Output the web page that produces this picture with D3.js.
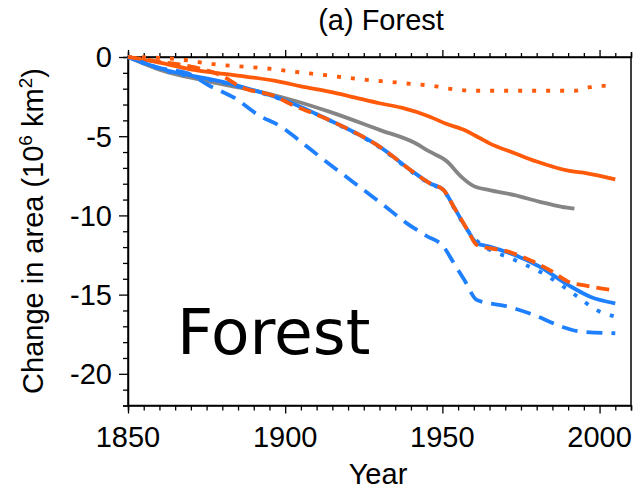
<!DOCTYPE html>
<html><head><meta charset="utf-8">
<script src="https://cdn.jsdelivr.net/npm/d3@7"></script>
<style>body{margin:0;background:#fff}svg{display:block}</style>
</head><body><svg id="c" width="633" height="489"></svg>
<script>
const years_orangeDotted = [1850,1860,1868,1877,1887,1896,1900,1913,1926,1935,1940,1948,1952,1961,1970,1978,1987,1992,1996,2000,2005];
const orangeDotted =       [0,-0.05,-0.19,-0.45,-0.61,-0.76,-0.86,-1.15,-1.45,-1.6,-1.7,-1.85,-2.0,-2.13,-2.13,-2.13,-2.13,-2.13,-1.95,-1.82,-1.82];
const years_orangeSolid = [1850,1860,1871,1882,1890,1898,1905,1914,1922,1930,1937,1946,1951,1957,1962,1965,1973,1980,1990,1996,2005];
const orangeSolid =       [0,-0.35,-0.82,-1.1,-1.3,-1.55,-1.85,-2.19,-2.55,-2.92,-3.2,-3.77,-4.2,-4.61,-5.13,-5.45,-6.07,-6.6,-7.18,-7.34,-7.73];
const years_gray = [1850,1860,1876,1892,1901,1914,1930,1941,1946,1951.5,1955.7,1960,1965,1973,1981,1988,1992];
const gray =       [0,-0.8,-1.56,-2.2,-2.65,-3.45,-4.6,-5.4,-5.98,-6.6,-7.5,-8.15,-8.4,-8.72,-9.14,-9.46,-9.57];
const years_orangeDashed = [1850,1860,1870,1880,1886,1897,1901,1914,1930,1941,1946,1950.4,1953.6,1958,1961,1971,1979,1985,1990,1996,2005];
const orangeDashed =       [0,-0.3,-0.6,-1.2,-1.9,-2.5,-2.9,-3.98,-5.66,-7.3,-7.97,-8.4,-9.45,-10.92,-11.87,-12.29,-12.93,-13.55,-14.18,-14.45,-14.75];
const years_blueSolid = [1850,1860,1882,1901,1914,1930,1941,1946,1950.4,1953.6,1958,1961,1965,1973,1981,1990,1997,2005];
const blueSolid =       [0,-0.71,-1.66,-2.82,-3.98,-5.66,-7.3,-7.97,-8.4,-9.45,-10.92,-11.76,-11.97,-12.5,-13.24,-14.39,-15.13,-15.55];
const years_blueDotted = [1850,1860,1882,1901,1914,1930,1941,1946,1950.4,1953.6,1958,1961,1973,1982,1993,1999,2005];
const blueDotted =       [0,-0.75,-1.7,-2.85,-4.0,-5.7,-7.35,-8.0,-8.45,-9.5,-10.95,-11.6,-12.81,-13.66,-15.13,-15.97,-16.39];
const years_blueDashed = [1850,1860.5,1869,1875.5,1884,1891.4,1898.7,1905,1911,1925,1931,1938.7,1945,1950.4,1953.6,1957,1961,1971,1979,1988,1994,2005];
const blueDashed =       [0,-0.71,-1.03,-1.77,-2.6,-3.66,-4.4,-5.35,-6.29,-8.4,-9.3,-10.5,-11.3,-11.98,-13.0,-14.08,-15.34,-15.76,-16.28,-17.02,-17.34,-17.44];
const xTicks = [1850,1900,1950,2000];
const yTicks = [0,-5,-10,-15,-20];

const svg = d3.select("#c");
const L=128, R=631, T=57, B=405.5;
const x = d3.scaleLinear().domain([1850,2010]).range([L,R]);
const y = d3.scaleLinear().domain([-22,0]).range([B,T]);
const ORANGE="#ff5a0a", BLUE="#1f80ff", GRAY="#858585";
const font="Liberation Sans, Arial, sans-serif";
const FS=29;

// frame
svg.append("rect").attr("x",L).attr("y",T).attr("width",R-L).attr("height",B-T)
  .attr("fill","none").attr("stroke","#000").attr("stroke-width",1.5);

// axes
const minorX = d3.range(1850,2011,5);
const gB = svg.append("g").attr("transform",`translate(0,${B})`)
  .call(d3.axisBottom(x).tickValues(minorX).tickSize(5).tickFormat(""));
gB.selectAll(".tick line").attr("y2",d=>d%50===0?8:5);
const gT = svg.append("g").attr("transform",`translate(0,${T})`)
  .call(d3.axisTop(x).tickValues(minorX).tickSize(5).tickFormat(""));
gT.selectAll(".tick line").attr("y2",d=>d%50===0?-7:-4);
const gL = svg.append("g").attr("transform",`translate(${L},0)`)
  .call(d3.axisLeft(y).tickValues(d3.range(-22,1,1)).tickSize(5).tickFormat(""));
gL.selectAll(".tick line").attr("x2",d=>d%5===0?-9:-5);
[gB,gT,gL].forEach(g=>{g.select(".domain").attr("stroke","#000").attr("stroke-width",1.5);g.selectAll(".tick line").attr("stroke","#000").attr("stroke-width",1.3);});

// tick labels
svg.append("g").selectAll("text").data(xTicks).join("text")
  .attr("x",d=>x(d)).attr("y",447).attr("text-anchor","middle")
  .attr("font-family",font).attr("font-size",FS).text(d=>d);
svg.append("g").selectAll("text").data(yTicks).join("text")
  .attr("x",112).attr("y",d=>y(d)+10.4).attr("text-anchor","end")
  .attr("font-family",font).attr("font-size",FS).text(d=>d===0?"0":"-"+Math.abs(d));

// titles
svg.append("text").attr("x",381).attr("y",30).attr("text-anchor","middle")
  .attr("font-family",font).attr("font-size",FS).text("(a) Forest");
svg.append("text").attr("x",378).attr("y",484).attr("text-anchor","middle")
  .attr("font-family",font).attr("font-size",FS).text("Year");
const yl = svg.append("text").attr("transform","translate(43,231) rotate(-90)")
  .attr("text-anchor","middle").attr("font-family",font).attr("font-size",FS);
yl.append("tspan").text("Change in area (10");
yl.append("tspan").attr("dy",-11).attr("font-size",19).text("6");
yl.append("tspan").attr("dy",11).text(" km");
yl.append("tspan").attr("dy",-11).attr("font-size",19).text("2");
yl.append("tspan").attr("dy",11).text(")");

svg.append("text").attr("x",177).attr("y",354).attr("font-family","DejaVu Sans, sans-serif")
  .attr("font-size",63).attr("fill","#000").text("Forest");

// lines
const series = [
  {xs:years_orangeDotted, ys:orangeDotted, c:ORANGE, dash:"4,10"},
  {xs:years_gray, ys:gray, c:GRAY, dash:null},
  {xs:years_orangeSolid, ys:orangeSolid, c:ORANGE, dash:null},
  {xs:years_blueDashed, ys:blueDashed, c:BLUE, dash:"16,9"},
  {xs:years_blueDotted, ys:blueDotted, c:BLUE, dash:"4,10"},
  {xs:years_blueSolid, ys:blueSolid, c:BLUE, dash:null},
  {xs:years_orangeDashed, ys:orangeDashed, c:ORANGE, dash:"13,7"},
];
const line = d3.line().x(d=>x(d[0])).y(d=>y(d[1])).curve(d3.curveMonotoneX);
series.forEach(s=>{
  svg.append("path").datum(s.xs.map((v,i)=>[v,s.ys[i]]))
    .attr("d",line).attr("fill","none").attr("stroke",s.c).attr("stroke-width",3.8)
    .attr("stroke-dasharray",s.dash).attr("stroke-linejoin","round");
});
</script></body></html>
